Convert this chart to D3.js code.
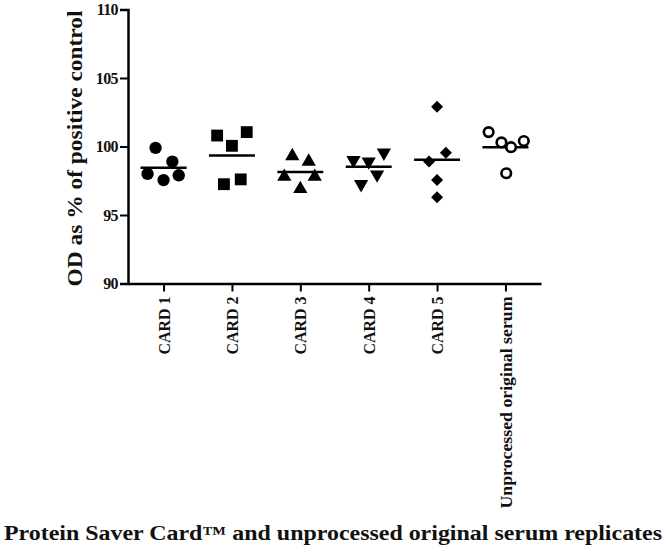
<!DOCTYPE html>
<html><head><meta charset="utf-8">
<script src="https://cdn.jsdelivr.net/npm/d3@7"></script>
<style>body{margin:0;background:#fff}svg{display:block}</style>
</head><body>
<svg id="c" width="666" height="553"></svg>
<script>
const categories = ["CARD 1","CARD 2","CARD 3","CARD 4","CARD 5","Unprocessed original serum"];
const card1 = [99.9, 98.9, 98.0, 97.55, 97.9];
const card2 = [100.8, 101.05, 100.05, 97.25, 97.6];
const card3 = [99.3, 98.9, 97.8, 97.8, 96.9];
const card4 = [99.0, 98.9, 99.55, 97.25, 97.95];
const card5 = [102.9, 99.55, 98.9, 97.55, 96.3];
const serum = [101.05, 100.3, 99.95, 100.4, 98.05];
const jitter = [
  [-1, 1.1, -2, 0, 1.9],
  [-1.85, 1.85, 0, -1, 1.1],
  [-1, 1.05, -2, 1.8, 0],
  [-1.9, 0, 1.9, -0.95, 1.05],
  [0, 1.1, -1, 0, 0],
  [-2.1, -0.5, 0.7, 2.3, 0.1]
];
const yTicks = [90, 95, 100, 105, 110];
const yTitle = "OD as % of positive control";
const xTitle = "Protein Saver Card\u2122  and unprocessed original serum replicates";
const series = [card1, card2, card3, card4, card5, serum];
const shapes = ["circle","square","triangle","triangleDown","diamond","openCircle"];

const svg = d3.select("#c");
const x = d3.scalePoint().domain(categories).range([128, 541]).padding(0.52);
const y = d3.scaleLinear().domain([90, 110]).range([283.5, 9.5]);
const serif = "Liberation Serif";

// Y axis
const ya = svg.append("g").attr("transform","translate(128,0)")
  .call(d3.axisLeft(y).tickValues(yTicks).tickSize(8).tickPadding(2).tickFormat(d3.format("d")));
ya.select(".domain").attr("stroke","#000").attr("stroke-width",2.5);
ya.selectAll(".tick line").attr("stroke","#000").attr("stroke-width",2);
ya.selectAll(".tick text").attr("font-family",serif).attr("font-weight","bold")
  .attr("font-size",16).attr("fill","#111").attr("letter-spacing","-0.6px");

// X axis
const xa = svg.append("g").attr("transform","translate(0,283.5)")
  .call(d3.axisBottom(x).tickSize(8).tickSizeOuter(0));
xa.select(".domain").attr("stroke","#000").attr("stroke-width",2.5);
xa.selectAll(".tick line").attr("stroke","#000").attr("stroke-width",2);
xa.selectAll(".tick text")
  .attr("font-family",serif).attr("font-weight","bold").attr("font-size",16).attr("fill","#111")
  .attr("transform","rotate(-90)").attr("text-anchor","end")
  .attr("x",-13).attr("y",0).attr("dy","0.35em")
  .attr("textLength", d => d.length > 10 ? 212 : 58)
  .attr("lengthAdjust","spacingAndGlyphs");

// Points
const step = 8;
const sym = {
  circle: d3.symbol(d3.symbolCircle, 120)(),
  openCircle: d3.symbol(d3.symbolCircle, 72)(),
  square: d3.symbol(d3.symbolSquare, 140)(),
  diamond: d3.symbol(d3.symbolSquare, 72)(),
  triangle: d3.symbol(d3.symbolTriangle, 88)(),
  triangleDown: d3.symbol(d3.symbolTriangle, 88)()
};
series.forEach((vals, i) => {
  const cx = x(categories[i]);
  const g = svg.append("g");
  const shp = shapes[i];
  const m = d3.mean(vals);
  g.append("line")
    .attr("x1", cx - 23).attr("x2", cx + 23)
    .attr("y1", y(m)).attr("y2", y(m))
    .attr("stroke","#000").attr("stroke-width",2.5);
  g.selectAll("path").data(vals).enter().append("path")
    .attr("d", sym[shp])
    .attr("transform", (v, k) => {
      let t = `translate(${cx + jitter[i][k]*step},${y(v)})`;
      if (shp === "triangleDown") t += " rotate(180)";
      if (shp === "diamond") t += " rotate(45)";
      return t;
    })
    .attr("fill", shp === "openCircle" ? "#fff" : "#000")
    .attr("stroke", shp === "openCircle" ? "#000" : "none")
    .attr("stroke-width", 2.6);
});

// Titles
svg.append("text")
  .attr("transform",`translate(82,${(10+287)/2}) rotate(-90)`)
  .attr("text-anchor","middle")
  .attr("font-family",serif).attr("font-weight","bold").attr("font-size",20).attr("fill","#111")
  .attr("textLength",276).attr("lengthAdjust","spacingAndGlyphs")
  .text(yTitle);
svg.append("text")
  .attr("x",333).attr("y",540).attr("text-anchor","middle")
  .attr("font-family",serif).attr("font-weight","bold").attr("font-size",20).attr("fill","#111")
  .attr("textLength",658).attr("lengthAdjust","spacingAndGlyphs")
  .text(xTitle);
</script>
</body></html>
